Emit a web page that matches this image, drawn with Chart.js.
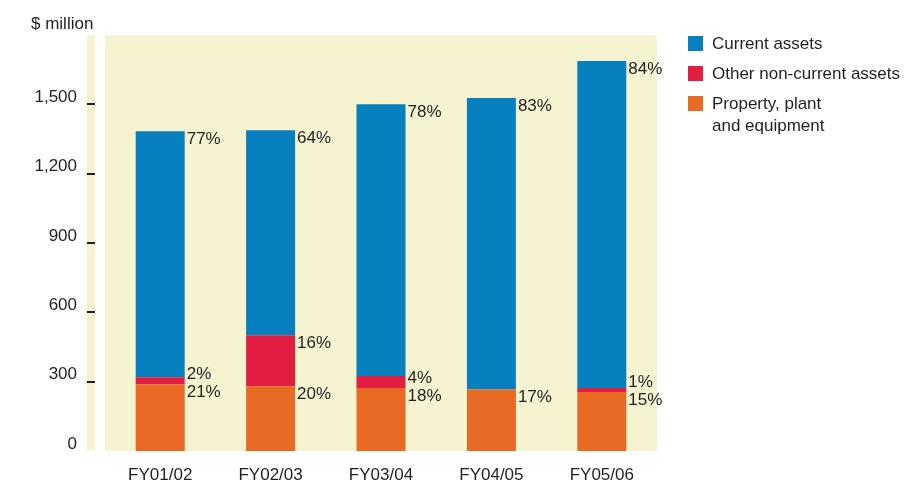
<!DOCTYPE html>
<html>
<head>
<meta charset="utf-8">
<script src="https://cdn.jsdelivr.net/npm/chart.js"></script>
<style>
  body { margin: 0; background: #fff; }
  #wrap { width: 908px; height: 481px; }
</style>
</head>
<body>
<div id="wrap"><canvas id="chart1" width="908" height="481"></canvas></div>
<script>
// data ($ million)
var years = ["FY01/02", "FY02/03", "FY03/04", "FY04/05", "FY05/06"];
var ppe = [289, 280, 273, 267, 255];          // Property, plant and equipment
var otherNonCurrent = [30, 221, 52, 0, 18];   // Other non-current assets
var current = [1065, 887, 1175, 1260, 1414];  // Current assets

// percentage labels printed next to each segment
var ppePct = ["21%", "20%", "18%", "17%", "15%"];
var otherPct = ["2%", "16%", "4%", null, "1%"];
var currentPct = ["77%", "64%", "78%", "83%", "84%"];

var yTicks = [0, 300, 600, 900, 1200, 1500];

var FONT = '17px "Liberation Sans", Arial, Helvetica, sans-serif';
var INK = "#231f20";

var colors = {
  current: "#0880bf",
  other: "#e21f42",
  ppe: "#e86a24",
  bg: "#f6f3d0"
};

// beige panel, left strip, tick marks and "$ million"
var backPlugin = {
  id: "backPlugin",
  beforeDraw: function(chart) {
    var ctx = chart.ctx;
    var a = chart.chartArea;
    var y = chart.scales.y;
    ctx.save();
    ctx.fillStyle = colors.bg;
    ctx.fillRect(a.left, a.top, a.right - a.left, a.bottom - a.top);
    ctx.fillRect(a.left - 18, a.top, 8, a.bottom - a.top);
    ctx.fillStyle = INK;
    yTicks.forEach(function(v) {
      if (v === 0) return;
      var py = Math.round(y.getPixelForValue(v));
      ctx.fillRect(a.left - 18, py - 1, 8, 2);
    });
    ctx.font = FONT;
    ctx.textBaseline = "middle";
    ctx.textAlign = "left";
    ctx.fillText("$ million", 31, a.top - 11);
    ctx.restore();
  }
};

// percentage labels beside the bars
var pctPlugin = {
  id: "pctPlugin",
  afterDatasetsDraw: function(chart) {
    var ctx = chart.ctx;
    var lists = [ppePct, otherPct, currentPct];
    ctx.save();
    ctx.font = FONT;
    ctx.fillStyle = INK;
    ctx.textAlign = "left";
    ctx.textBaseline = "middle";
    for (var j = 0; j < years.length; j++) {
      var below = null;
      for (var i = 0; i < lists.length; i++) {
        var txt = lists[i][j];
        if (!txt) continue;
        var bar = chart.getDatasetMeta(i).data[j];
        var ly = bar.y + 8;
        if (below !== null && ly > below - 18) ly = below - 18;
        ctx.fillText(txt, bar.x + bar.width / 2 + 2, ly);
        below = ly;
      }
    }
    ctx.restore();
  }
};

// legend on the right
var legendPlugin = {
  id: "legendPlugin",
  afterDraw: function(chart) {
    var ctx = chart.ctx;
    var items = [
      { c: colors.current, t: ["Current assets"] },
      { c: colors.other, t: ["Other non-current assets"] },
      { c: colors.ppe, t: ["Property, plant", "and equipment"] }
    ];
    ctx.save();
    ctx.font = FONT;
    ctx.fillStyle = INK;
    ctx.textBaseline = "middle";
    items.forEach(function(it, k) {
      var top = 36 + k * 30;
      ctx.fillStyle = it.c;
      ctx.fillRect(688, top, 15, 15);
      ctx.fillStyle = INK;
      it.t.forEach(function(line, n) {
        ctx.fillText(line, 712, top + 8 + n * 22);
      });
    });
    ctx.restore();
  }
};

var config = {
  type: "bar",
  data: {
    labels: years,
    datasets: [
      { label: "Property, plant and equipment", data: ppe, backgroundColor: colors.ppe },
      { label: "Other non-current assets", data: otherNonCurrent, backgroundColor: colors.other },
      { label: "Current assets", data: current, backgroundColor: colors.current }
    ]
  },
  options: {
    responsive: false,
    animation: false,
    devicePixelRatio: 1,
    categoryPercentage: 1,
    barPercentage: 0.444,
    layout: { padding: { top: 35, right: 251, left: 0, bottom: 0 } },
    plugins: {
      legend: { display: false },
      tooltip: { enabled: false }
    },
    scales: {
      x: {
        stacked: true,
        grid: { display: false, drawTicks: false },
        border: { display: false },
        ticks: { color: INK, font: { family: '"Liberation Sans", Arial, sans-serif', size: 17 }, padding: 14 },
        afterFit: function(s) { s.height = 30; s.paddingLeft = 0; s.paddingRight = 0; }
      },
      y: {
        stacked: true,
        min: 0,
        max: 1800,
        grid: { display: false, drawTicks: false },
        border: { display: false },
        ticks: {
          stepSize: 300,
          color: INK,
          padding: 28,
          labelOffset: -7,
          font: { family: '"Liberation Sans", Arial, sans-serif', size: 17 },
          callback: function(v) {
            if (yTicks.indexOf(v) < 0) return "";
            return v.toLocaleString("en-US");
          }
        },
        afterFit: function(s) { s.width = 105; s.paddingTop = 0; s.paddingBottom = 0; }
      }
    }
  },
  plugins: [backPlugin, pctPlugin, legendPlugin]
};

var ctx1 = document.getElementById("chart1");
var myBars = new Chart(ctx1, config);
</script>
</body>
</html>
